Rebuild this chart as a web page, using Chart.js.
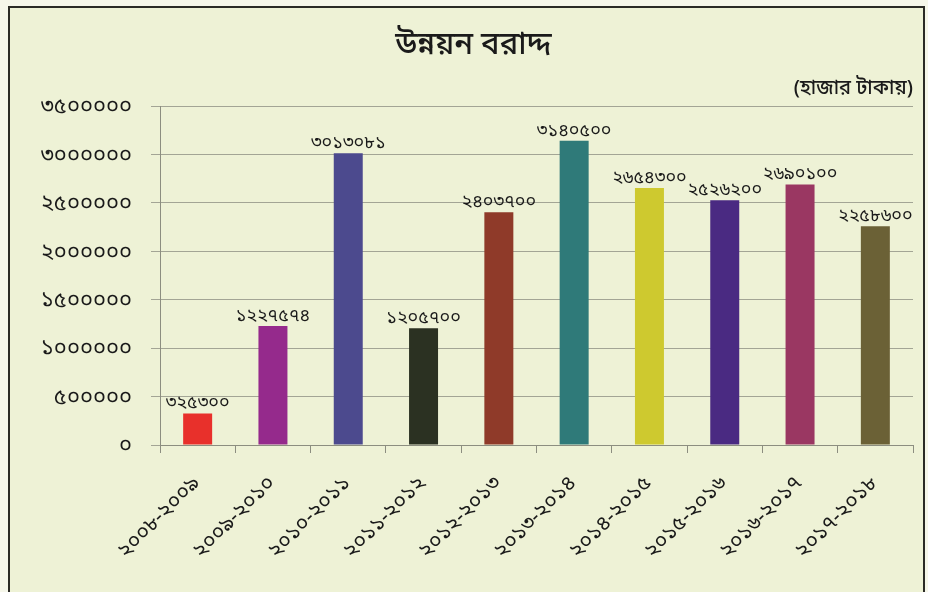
<!DOCTYPE html>
<html>
<head>
<meta charset="utf-8">
<script src="https://cdn.jsdelivr.net/npm/chart.js@4.4.0/dist/chart.umd.min.js"></script>
<style>
  html, body { margin: 0; padding: 0; background: #f6f7ea; }
  #frame {
    position: absolute; left: 8px; top: 6px; width: 917px; height: 588px;
    box-sizing: border-box; border: 2px solid #2b2b26; background: #eef2d6;
  }
  canvas { display: block; }
</style>
</head>
<body>
<div id="frame"><canvas id="c" width="913" height="584"></canvas></div>
<script>
const titleText = "উন্নয়ন বরাদ্দ";
const subtitleText = "(হাজার টাকায়)";
const categories = ["২০০৮-২০০৯", "২০০৯-২০১০", "২০১০-২০১১", "২০১১-২০১২", "২০১২-২০১৩",
                    "২০১৩-২০১৪", "২০১৪-২০১৫", "২০১৫-২০১৬", "২০১৬-২০১৭", "২০১৭-২০১৮"];
const values = [325300, 1227574, 3013081, 1205700, 2403700, 3140500, 2654300, 2526200, 2690100, 2258600];
const barColors = ["#e8302b", "#952a8c", "#4c4a8e", "#2b3122", "#8f3a29", "#2f7a79",
                   "#cec92f", "#4a2a82", "#9a3762", "#6b6136"];
const yTicks = [0, 500000, 1000000, 1500000, 2000000, 2500000, 3000000, 3500000];

const bnDigits = ["০","১","২","৩","৪","৫","৬","৭","৮","৯"];
function toBn(n) { return String(n).replace(/[0-9]/g, d => bnDigits[+d]); }

const FONT = "'Noto Sans Bengali', 'Noto Serif Bengali', 'Noto Sans', sans-serif";

const valueLabels = {
  id: 'valueLabels',
  afterDatasetsDraw(chart) {
    const ctx = chart.ctx;
    const meta = chart.getDatasetMeta(0);
    ctx.save();
    ctx.font = "18px " + FONT;
    ctx.fillStyle = "#1a1a1a";
    ctx.textAlign = "center";
    ctx.textBaseline = "alphabetic";
    meta.data.forEach((bar, i) => {
      ctx.fillText(toBn(values[i]), bar.x, bar.y - 5);
    });
    ctx.restore();
  }
};

new Chart(document.getElementById('c'), {
  type: 'bar',
  data: {
    labels: categories,
    datasets: [{ data: values, backgroundColor: barColors, borderWidth: 0,
                 categoryPercentage: 1.0, barPercentage: 0.385 }]
  },
  options: {
    responsive: false,
    animation: false,
    layout: { padding: { left: 24, right: 10, top: 0, bottom: 0 } },
    plugins: {
      legend: { display: false },
      tooltip: { enabled: false },
      title: { display: true, text: titleText, color: "#1a1a1a",
               font: { family: FONT, size: 31, weight: '500', lineHeight: 1.2 }, padding: { top: 21, bottom: 4 } },
      subtitle: { display: true, text: subtitleText, align: 'end', color: "#1a1a1a",
                  font: { family: FONT, size: 20, weight: '500', lineHeight: 1.2 }, padding: { top: 8, bottom: 3.8 } }
    },
    scales: {
      y: {
        min: 0, max: 3500000,
        afterBuildTicks(scale) { scale.ticks = yTicks.map(v => ({ value: v })); },
        afterFit(scale) { scale.width = 126; },
        ticks: { callback: v => toBn(v), color: "#1a1a1a", font: { family: FONT, size: 22 }, padding: 19, labelOffset: 3 },
        grid: { color: "#a3a595", lineWidth: 1, tickLength: 9 },
        border: { color: "#8c8e80", width: 1 }
      },
      x: {
        afterFit(scale) { scale.height = 147; },
        ticks: { color: "#1a1a1a", font: { family: FONT, size: 21 }, minRotation: 45, maxRotation: 45, padding: 19 },
        grid: { drawOnChartArea: false, color: "#8c8e80", tickLength: 8, offset: true },
        border: { color: "#8c8e80", width: 1 }
      }
    }
  },
  plugins: [valueLabels]
});
</script>
</body>
</html>
